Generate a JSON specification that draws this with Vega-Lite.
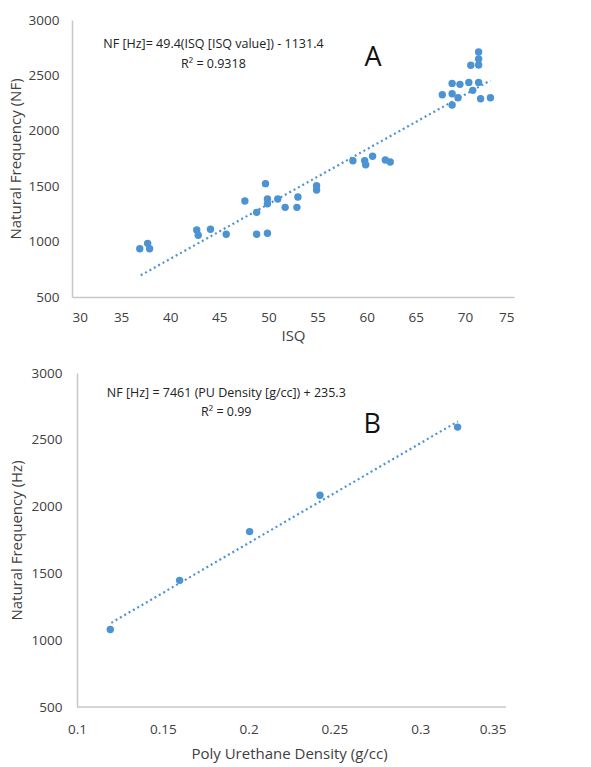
{
  "$schema": "https://vega.github.io/schema/vega-lite/v6.json",
  "padding": {"left": 8, "top": 13, "right": 10, "bottom": 5},
  "spacing": 22,
  "config": {
    "view": {"stroke": null},
    "font": "Open Sans",
    "axis": {
      "grid": false,
      "ticks": false,
      "domainColor": "#c8c8c8",
      "domainWidth": 1.5,
      "labelColor": "#404040",
      "labelFontSize": 13.5,
      "titleColor": "#404040",
      "titleFontSize": 15,
      "titleFontWeight": "normal",
      "labelPadding": 13
    }
  },
  "datasets": {
    "isq": [
      {"ISQ": 36.9, "NF": 936}, {"ISQ": 37.7, "NF": 984}, {"ISQ": 37.9, "NF": 936},
      {"ISQ": 42.7, "NF": 1105}, {"ISQ": 42.85, "NF": 1057}, {"ISQ": 44.1, "NF": 1111},
      {"ISQ": 45.7, "NF": 1066}, {"ISQ": 47.6, "NF": 1366}, {"ISQ": 48.8, "NF": 1264},
      {"ISQ": 48.8, "NF": 1066}, {"ISQ": 49.7, "NF": 1523}, {"ISQ": 49.9, "NF": 1385},
      {"ISQ": 49.9, "NF": 1342}, {"ISQ": 49.9, "NF": 1075}, {"ISQ": 50.95, "NF": 1385},
      {"ISQ": 51.7, "NF": 1309}, {"ISQ": 52.9, "NF": 1309}, {"ISQ": 53.0, "NF": 1403},
      {"ISQ": 54.9, "NF": 1505}, {"ISQ": 54.9, "NF": 1466}, {"ISQ": 58.6, "NF": 1730},
      {"ISQ": 59.8, "NF": 1730}, {"ISQ": 59.9, "NF": 1694}, {"ISQ": 60.6, "NF": 1770},
      {"ISQ": 61.9, "NF": 1736}, {"ISQ": 62.4, "NF": 1718}, {"ISQ": 67.7, "NF": 2326},
      {"ISQ": 68.7, "NF": 2428}, {"ISQ": 68.7, "NF": 2335}, {"ISQ": 68.7, "NF": 2233},
      {"ISQ": 69.3, "NF": 2299}, {"ISQ": 69.5, "NF": 2419}, {"ISQ": 70.4, "NF": 2437},
      {"ISQ": 70.6, "NF": 2591}, {"ISQ": 70.8, "NF": 2365}, {"ISQ": 71.4, "NF": 2437},
      {"ISQ": 71.4, "NF": 2711}, {"ISQ": 71.4, "NF": 2648}, {"ISQ": 71.4, "NF": 2594},
      {"ISQ": 71.6, "NF": 2290}, {"ISQ": 72.6, "NF": 2299}
    ],
    "isqFit": [{"ISQ": 37.0, "NF": 696}, {"ISQ": 72.6, "NF": 2455}],
    "annA": [
      {"x": 44.4, "y": 2783, "text": "NF [Hz]= 49.4(ISQ [ISQ value]) - 1131.4"},
      {"x": 44.4, "y": 2603, "text": "R² = 0.9318"}
    ],
    "letterA": [{"x": 60.65, "y": 2657, "text": "A"}],
    "pu": [
      {"D": 0.1194, "NF": 1080}, {"D": 0.1598, "NF": 1448}, {"D": 0.2006, "NF": 1813},
      {"D": 0.2416, "NF": 2085}, {"D": 0.3218, "NF": 2595}
    ],
    "puFit": [{"D": 0.12, "NF": 1130}, {"D": 0.322, "NF": 2638}],
    "puBase": [{"D": 0.1, "D2": 0.35, "NF": 500}],
    "annB": [
      {"x": 0.187, "y": 2850, "text": "NF [Hz] = 7461 (PU Density [g/cc]) + 235.3"},
      {"x": 0.187, "y": 2705, "text": "R² = 0.99"}
    ],
    "letterB": [{"x": 0.272, "y": 2613, "text": "B"}]
  },
  "vconcat": [
    {
      "width": 442,
      "height": 277,
      "layer": [
        {
          "data": {"name": "isqFit"},
          "mark": {"type": "line", "color": "#4C93D3", "strokeWidth": 2.2, "strokeDash": [2, 3]},
          "encoding": {
            "x": {"field": "ISQ", "type": "quantitative", "scale": {"domain": [30, 75], "nice": false},
                  "axis": {"values": [30, 35, 40, 45, 50, 55, 60, 65, 70, 75], "title": "ISQ", "titlePadding": 5}},
            "y": {"field": "NF", "type": "quantitative", "scale": {"domain": [500, 3000], "nice": false},
                  "axis": {"values": [500, 1000, 1500, 2000, 2500, 3000], "format": "d", "title": "Natural Frequency (NF)", "titlePadding": 5}}
          }
        },
        {
          "data": {"name": "isq"},
          "mark": {"type": "circle", "color": "#4C93D3", "opacity": 1, "size": 55},
          "encoding": {
            "x": {"field": "ISQ", "type": "quantitative"},
            "y": {"field": "NF", "type": "quantitative"}
          }
        },
        {
          "data": {"name": "annA"},
          "mark": {"type": "text", "fontSize": 12.5, "color": "#222222", "baseline": "middle"},
          "encoding": {
            "x": {"field": "x", "type": "quantitative"},
            "y": {"field": "y", "type": "quantitative"},
            "text": {"field": "text"}
          }
        },
        {
          "data": {"name": "letterA"},
          "mark": {"type": "text", "fontSize": 27, "color": "#111111", "baseline": "middle"},
          "encoding": {
            "x": {"field": "x", "type": "quantitative"},
            "y": {"field": "y", "type": "quantitative"},
            "text": {"field": "text"}
          }
        }
      ]
    },
    {
      "width": 434,
      "height": 334,
      "layer": [
        {
          "data": {"name": "puFit"},
          "mark": {"type": "line", "color": "#4C93D3", "strokeWidth": 2.2, "strokeDash": [2, 3]},
          "encoding": {
            "x": {"field": "D", "type": "quantitative", "scale": {"domain": [0.097086, 0.35], "nice": false},
                  "axis": {"values": [0.1, 0.15, 0.2, 0.25, 0.3, 0.35], "format": "~g", "domain": false, "labelPadding": 15, "title": "Poly Urethane Density (g/cc)", "titlePadding": 11}},
            "y": {"field": "NF", "type": "quantitative", "scale": {"domain": [500, 3000], "nice": false},
                  "axis": {"values": [500, 1000, 1500, 2000, 2500, 3000], "format": "d", "offset": -5, "labelPadding": 15, "title": "Natural Frequency (Hz)", "titlePadding": 7}}
          }
        },
        {
          "data": {"name": "puBase"},
          "mark": {"type": "rule", "color": "#c8c8c8", "strokeWidth": 1.5},
          "encoding": {
            "x": {"field": "D", "type": "quantitative"},
            "x2": {"field": "D2"},
            "y": {"field": "NF", "type": "quantitative"}
          }
        },
        {
          "data": {"name": "pu"},
          "mark": {"type": "circle", "color": "#4C93D3", "opacity": 1, "size": 55},
          "encoding": {
            "x": {"field": "D", "type": "quantitative"},
            "y": {"field": "NF", "type": "quantitative"}
          }
        },
        {
          "data": {"name": "annB"},
          "mark": {"type": "text", "fontSize": 12.5, "color": "#222222", "baseline": "middle"},
          "encoding": {
            "x": {"field": "x", "type": "quantitative"},
            "y": {"field": "y", "type": "quantitative"},
            "text": {"field": "text"}
          }
        },
        {
          "data": {"name": "letterB"},
          "mark": {"type": "text", "fontSize": 27, "color": "#111111", "baseline": "middle"},
          "encoding": {
            "x": {"field": "x", "type": "quantitative"},
            "y": {"field": "y", "type": "quantitative"},
            "text": {"field": "text"}
          }
        }
      ]
    }
  ]
}
